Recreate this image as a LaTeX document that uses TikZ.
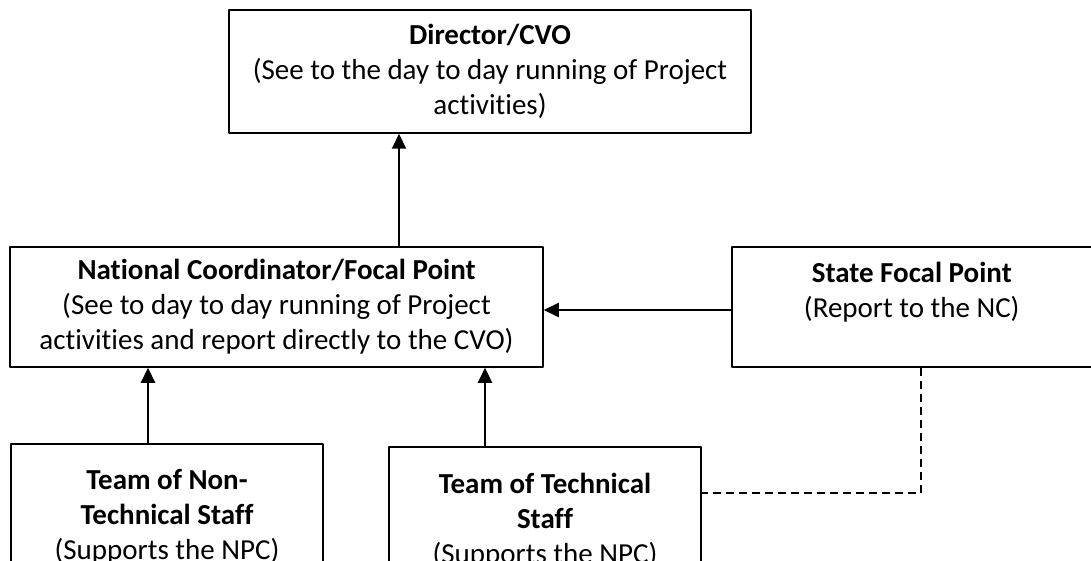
\documentclass[tikz,border=0pt]{standalone}
\usepackage{fontspec}
\setmainfont{Carlito}[Ligatures=NoCommon]
\usetikzlibrary{arrows.meta}
\begin{document}
\begin{tikzpicture}[>={Triangle[length=15pt,width=14pt]},line join=round,
    font=\fontsize{29}{35}\selectfont,x=1pt,y=-1pt,
    box/.style={draw,line width=1.5pt,align=center,inner sep=0pt},
    link/.style={->,line width=2.2pt}]
    \useasboundingbox (0,0) rectangle (1091,561);
    % Boxes
    \node[box,minimum width=522pt,minimum height=123pt] (dir) at (490,71.5)
        {\textbf{Director/CVO}\\(See to the day to day running of Project\\activities)};
    \node[box,minimum width=533pt,minimum height=120pt] (nc) at (276.5,307)
        {\textbf{National Coordinator/Focal Point}\\(See to day to day running of Project\\activities and report directly to the CVO)};
    \node[box,minimum width=360pt,minimum height=120pt] (sfp) at (911.75,307)
        {\textbf{State Focal Point}\\(Report to the NC)\\\mbox{}};
    \node[box,anchor=north,minimum width=312pt,inner ysep=26pt] (ntech) at (167,443)
        {\textbf{Team of Non-}\\\textbf{Technical Staff}\\(Supports the NPC)};
    \node[box,anchor=north,minimum width=312pt,inner ysep=26pt] (tech) at (545,446)
        {\textbf{Team of Technical}\\\textbf{Staff}\\(Supports the NPC)};
    % Links
    \draw[link] ([xshift=122.5pt]nc.north) -- ([xshift=122.5pt]nc.north |- dir.south);
    \draw[link] ([yshift=-3pt]sfp.west) -- ([yshift=-3pt]nc.east);
    \draw[link] ([xshift=-19pt]ntech.north) -- ([xshift=-19pt]ntech.north |- nc.south);
    \draw[link] ([xshift=-60pt]tech.north) -- ([xshift=-60pt]tech.north |- nc.south);
    \draw[dashed,line width=1.6pt,dash pattern=on 8pt off 5pt] ([xshift=9.25pt]sfp.south) |- ([yshift=-47pt]tech.north east);
\end{tikzpicture}
\end{document}
